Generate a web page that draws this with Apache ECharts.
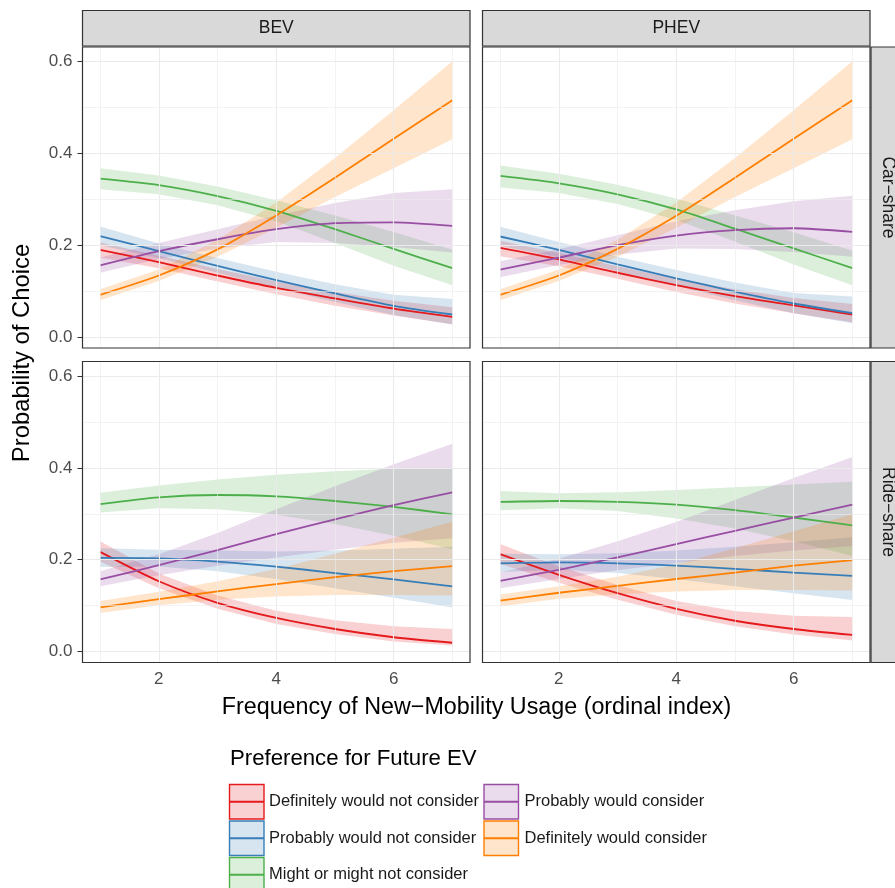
<!DOCTYPE html>
<html>
<head>
<meta charset="utf-8">
<script src="https://cdn.jsdelivr.net/npm/echarts@6/dist/echarts.min.js"></script>
<style>html,body{margin:0;padding:0;background:#fff;}#chart{width:895px;height:888px;}</style>
</head>
<body>
<div id="chart"></div>
<script>
// ---------- DATA ----------
const xs = [1, 2, 3, 4, 5, 6, 7];
const categories = ['Definitely would not consider', 'Probably would not consider', 'Might or might not consider', 'Probably would consider', 'Definitely would consider'];
const vehicleTypes = ['BEV', 'PHEV'];
const serviceTypes = ['Car\u2212share', 'Ride\u2212share'];
const xTicks = [2, 4, 6];
const yTicks = [0, 0.2, 0.4, 0.6];

// BEV / Car-share  (order: red, blue, green, purple, orange)
const bevCarFit = [
  [0.190, 0.163, 0.134, 0.107, 0.084, 0.062, 0.044],
  [0.220, 0.187, 0.155, 0.124, 0.095, 0.068, 0.049],
  [0.345, 0.331, 0.307, 0.275, 0.235, 0.192, 0.150],
  [0.156, 0.187, 0.213, 0.235, 0.248, 0.250, 0.242],
  [0.092, 0.134, 0.191, 0.265, 0.347, 0.432, 0.516]
];
const bevCarLo = [
  [0.173, 0.150, 0.121, 0.093, 0.068, 0.047, 0.028],
  [0.200, 0.172, 0.140, 0.107, 0.076, 0.048, 0.027],
  [0.322, 0.311, 0.287, 0.252, 0.205, 0.155, 0.113],
  [0.140, 0.170, 0.193, 0.207, 0.205, 0.196, 0.184],
  [0.080, 0.122, 0.175, 0.238, 0.305, 0.368, 0.431]
];
const bevCarHi = [
  [0.206, 0.177, 0.148, 0.121, 0.098, 0.079, 0.065],
  [0.241, 0.204, 0.172, 0.142, 0.115, 0.092, 0.083],
  [0.368, 0.352, 0.328, 0.298, 0.265, 0.229, 0.190],
  [0.173, 0.205, 0.235, 0.265, 0.292, 0.314, 0.322],
  [0.104, 0.147, 0.212, 0.293, 0.390, 0.494, 0.601]
];
// PHEV / Car-share
const phevCarFit = [
  [0.194, 0.169, 0.140, 0.113, 0.089, 0.069, 0.049],
  [0.219, 0.190, 0.158, 0.128, 0.099, 0.073, 0.052],
  [0.351, 0.335, 0.311, 0.278, 0.236, 0.193, 0.150],
  [0.147, 0.173, 0.200, 0.221, 0.233, 0.237, 0.229],
  [0.092, 0.134, 0.192, 0.264, 0.347, 0.432, 0.516]
];
const phevCarLo = [
  [0.176, 0.154, 0.127, 0.098, 0.073, 0.052, 0.032],
  [0.199, 0.174, 0.143, 0.111, 0.080, 0.052, 0.030],
  [0.326, 0.314, 0.290, 0.255, 0.208, 0.158, 0.113],
  [0.130, 0.157, 0.180, 0.193, 0.192, 0.185, 0.175],
  [0.080, 0.122, 0.175, 0.238, 0.305, 0.368, 0.431]
];
const phevCarHi = [
  [0.210, 0.183, 0.154, 0.127, 0.104, 0.085, 0.072],
  [0.240, 0.207, 0.175, 0.146, 0.119, 0.096, 0.088],
  [0.374, 0.356, 0.332, 0.302, 0.265, 0.228, 0.188],
  [0.165, 0.191, 0.222, 0.252, 0.276, 0.296, 0.308],
  [0.104, 0.147, 0.212, 0.293, 0.390, 0.494, 0.601]
];
// BEV / Ride-share
const bevRideFit = [
  [0.217, 0.153, 0.106, 0.073, 0.049, 0.031, 0.019],
  [0.204, 0.203, 0.196, 0.185, 0.171, 0.157, 0.142],
  [0.321, 0.336, 0.341, 0.338, 0.328, 0.315, 0.299],
  [0.157, 0.188, 0.221, 0.256, 0.288, 0.319, 0.347],
  [0.096, 0.114, 0.131, 0.147, 0.162, 0.175, 0.186]
];
const bevRideLo = [
  [0.196, 0.138, 0.093, 0.060, 0.038, 0.022, 0.013],
  [0.184, 0.185, 0.175, 0.158, 0.138, 0.117, 0.096],
  [0.303, 0.312, 0.310, 0.298, 0.278, 0.252, 0.223],
  [0.142, 0.166, 0.187, 0.205, 0.222, 0.237, 0.247],
  [0.084, 0.101, 0.113, 0.120, 0.123, 0.123, 0.122]
];
const bevRideHi = [
  [0.240, 0.170, 0.122, 0.089, 0.068, 0.055, 0.049],
  [0.225, 0.222, 0.220, 0.218, 0.220, 0.224, 0.228],
  [0.346, 0.362, 0.375, 0.385, 0.393, 0.398, 0.399],
  [0.175, 0.212, 0.258, 0.310, 0.360, 0.408, 0.453],
  [0.110, 0.130, 0.153, 0.180, 0.213, 0.248, 0.283]
];
// PHEV / Ride-share
const phevRideFit = [
  [0.212, 0.167, 0.127, 0.093, 0.067, 0.049, 0.036],
  [0.192, 0.194, 0.192, 0.187, 0.180, 0.172, 0.165],
  [0.326, 0.328, 0.326, 0.320, 0.308, 0.292, 0.275],
  [0.154, 0.178, 0.205, 0.234, 0.263, 0.292, 0.320],
  [0.111, 0.128, 0.143, 0.158, 0.172, 0.187, 0.199]
];
const phevRideLo = [
  [0.191, 0.150, 0.113, 0.080, 0.055, 0.037, 0.024],
  [0.173, 0.178, 0.171, 0.158, 0.142, 0.127, 0.112],
  [0.308, 0.312, 0.306, 0.290, 0.268, 0.240, 0.208],
  [0.138, 0.158, 0.177, 0.193, 0.208, 0.220, 0.230],
  [0.098, 0.115, 0.125, 0.131, 0.134, 0.134, 0.133]
];
const phevRideHi = [
  [0.234, 0.186, 0.145, 0.110, 0.088, 0.078, 0.075],
  [0.213, 0.212, 0.214, 0.220, 0.228, 0.238, 0.249],
  [0.350, 0.345, 0.347, 0.352, 0.358, 0.364, 0.370],
  [0.172, 0.202, 0.240, 0.282, 0.330, 0.378, 0.424],
  [0.124, 0.142, 0.163, 0.190, 0.225, 0.262, 0.299]
];

// ---------- STYLE / LAYOUT ----------
const colors = ['#E41A1C', '#377EB8', '#4DAF4A', '#984EA3', '#FF7F00'];
const FONT = '"Liberation Sans", Arial, Helvetica, sans-serif';
const panels = [
  { fit: bevCarFit, lo: bevCarLo, hi: bevCarHi, left: 82.5, top: 47, showX: false, showY: true },
  { fit: phevCarFit, lo: phevCarLo, hi: phevCarHi, left: 482.5, top: 47, showX: false, showY: false },
  { fit: bevRideFit, lo: bevRideLo, hi: bevRideHi, left: 82.5, top: 361.5, showX: true, showY: true },
  { fit: phevRideFit, lo: phevRideLo, hi: phevRideHi, left: 482.5, top: 361.5, showX: true, showY: false }
];
const PW = 387.5, PH = 301;
const SMOOTH = 0.25;

const grids = [], xAxes = [], yAxes = [], series = [], graphics = [];

panels.forEach((p, gi) => {
  grids.push({ left: p.left, top: p.top, width: PW, height: PH, show: false });
  xAxes.push({
    type: 'value', gridIndex: gi, min: 0.7, max: 7.3,
    axisLine: { show: false }, splitLine: { show: false },
    axisTick: { show: p.showX, customValues: xTicks, length: 5, lineStyle: { color: '#333333', width: 1 } },
    axisLabel: { show: p.showX, customValues: xTicks, color: '#4D4D4D', fontSize: 17, margin: 8, fontFamily: FONT }
  });
  yAxes.push({
    type: 'value', gridIndex: gi, min: -0.024, max: 0.632,
    axisLine: { show: false }, splitLine: { show: false },
    axisTick: { show: p.showY, customValues: yTicks, length: 5, lineStyle: { color: '#333333', width: 1 } },
    axisLabel: { show: p.showY, customValues: yTicks, color: '#4D4D4D', fontSize: 17, margin: 10, fontFamily: FONT,
      formatter: v => Number(v).toFixed(1) }
  });
  // grid lines
  const ml = [];
  [1, 2, 3, 4, 5, 6, 7].forEach(v => ml.push({ xAxis: v, lineStyle: { color: '#EBEBEB', width: (v % 2 === 0) ? 1.1 : 0.6, type: 'solid' } }));
  [0, 0.1, 0.2, 0.3, 0.4, 0.5, 0.6].forEach((v, k) => ml.push({ yAxis: v, lineStyle: { color: '#EBEBEB', width: (k % 2 === 0) ? 1.1 : 0.6, type: 'solid' } }));
  series.push({
    type: 'line', xAxisIndex: gi, yAxisIndex: gi, data: [[4, 0.3]], showSymbol: false, symbol: 'none',
    lineStyle: { width: 0, opacity: 0 }, z: 1, silent: true,
    markLine: { silent: true, symbol: ['none', 'none'], label: { show: false }, animation: false, data: ml }
  });
  // ribbons (confidence bands) drawn as polygons through the axis scales
  categories.forEach((c, ci) => {
    const lo = p.lo[ci], hi = p.hi[ci];
    series.push({
      type: 'custom', xAxisIndex: gi, yAxisIndex: gi, z: 2, silent: true,
      data: xs.map((x, i) => [x, lo[i], hi[i]]),
      encode: { x: 0, y: [1, 2] },
      renderItem: (params, api) => {
        if (params.dataIndex !== 0) return null;
        const upper = xs.map((x, i) => api.coord([x, hi[i]]));
        const lower = xs.map((x, i) => api.coord([x, lo[i]])).reverse();
        return {
          type: 'polygon',
          shape: { points: upper.concat(lower) },
          style: { fill: colors[ci], opacity: 0.2 }
        };
      }
    });
  });
  // fitted lines
  categories.forEach((c, ci) => {
    series.push({
      name: c, type: 'line', xAxisIndex: gi, yAxisIndex: gi, smooth: SMOOTH,
      data: xs.map((x, i) => [x, p.fit[ci][i]]), symbol: 'none', showSymbol: false,
      lineStyle: { color: colors[ci], width: 1.8 }, z: 3, silent: true
    });
  });
  // panel border
  graphics.push({ type: 'rect', shape: { x: p.left, y: p.top, width: PW, height: PH },
    style: { fill: 'none', stroke: '#333333', lineWidth: 1.2 }, z: 100, silent: true });
});

// strips (top)
vehicleTypes.forEach((v, k) => {
  const left = panels[k].left;
  graphics.push({ type: 'rect', shape: { x: left, y: 10.5, width: PW, height: 35.5 },
    style: { fill: '#D9D9D9', stroke: '#333333', lineWidth: 1.2 }, z: 100, silent: true });
  graphics.push({ type: 'text', x: left + PW / 2, y: 28.5, z: 101, silent: true,
    style: { text: v, fill: '#1A1A1A', font: '17.5px ' + FONT, textAlign: 'center', textVerticalAlign: 'middle' } });
});
// strips (right)
serviceTypes.forEach((s, k) => {
  const top = panels[k * 2].top;
  graphics.push({ type: 'rect', shape: { x: 871, y: top, width: 40, height: PH },
    style: { fill: '#D9D9D9', stroke: '#333333', lineWidth: 1.2 }, z: 100, silent: true });
  graphics.push({ type: 'text', x: 888, y: top + PH / 2, rotation: -Math.PI / 2, z: 101, silent: true,
    style: { text: s, fill: '#1A1A1A', font: '17.5px ' + FONT, textAlign: 'center', textVerticalAlign: 'middle' } });
});
// axis titles
graphics.push({ type: 'text', x: 476.5, y: 708, z: 101, silent: true,
  style: { text: 'Frequency of New\u2212Mobility Usage (ordinal index)', fill: '#000000', font: '23.3px ' + FONT, textAlign: 'center', textVerticalAlign: 'middle' } });
graphics.push({ type: 'text', x: 22, y: 353, rotation: Math.PI / 2, z: 101, silent: true,
  style: { text: 'Probability of Choice', fill: '#000000', font: '23.8px ' + FONT, textAlign: 'center', textVerticalAlign: 'middle' } });

// legend
graphics.push({ type: 'text', x: 230, y: 759, z: 101, silent: true,
  style: { text: 'Preference for Future EV', fill: '#000000', font: '22.2px ' + FONT, textAlign: 'left', textVerticalAlign: 'middle' } });
const legendCols = [{ boxX: 229.5, textX: 269 }, { boxX: 484, textX: 524.5 }];
const KEY = 34.5, PITCH = 36.5, KEY_TOP = 784.5;
categories.forEach((c, ci) => {
  const col = Math.floor(ci / 3), row = ci % 3;
  const bx = legendCols[col].boxX, by = KEY_TOP + row * PITCH;
  graphics.push({ type: 'rect', shape: { x: bx, y: by, width: KEY, height: KEY },
    style: { fill: echarts.color.modifyAlpha(colors[ci], 0.2), stroke: colors[ci], lineWidth: 1.4 }, z: 100, silent: true });
  graphics.push({ type: 'line', shape: { x1: bx, y1: by + KEY / 2, x2: bx + KEY, y2: by + KEY / 2 },
    style: { stroke: colors[ci], lineWidth: 1.8 }, z: 101, silent: true });
  graphics.push({ type: 'text', x: legendCols[col].textX, y: by + KEY / 2, z: 101, silent: true,
    style: { text: c, fill: '#1A1A1A', font: '16.5px ' + FONT, textAlign: 'left', textVerticalAlign: 'middle' } });
});

const chart = echarts.init(document.getElementById('chart'), null, { renderer: 'canvas' });
chart.setOption({
  animation: false,
  backgroundColor: '#FFFFFF',
  grid: grids,
  xAxis: xAxes,
  yAxis: yAxes,
  series: series,
  graphic: { elements: graphics }
});
</script>
</body>
</html>
